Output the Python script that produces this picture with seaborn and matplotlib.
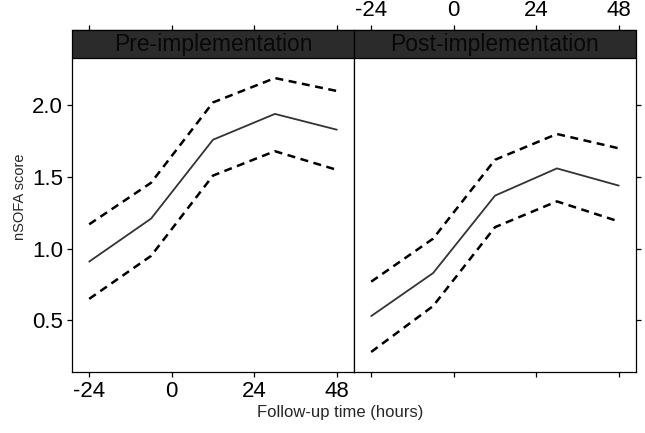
import pandas as pd
import matplotlib.pyplot as plt
import seaborn as sns
from matplotlib.patches import Rectangle

# %%

hours = [-24, -6, 12, 30, 48]
panels = ['Pre-implementation', 'Post-implementation']

pre_est = [0.91, 1.21, 1.76, 1.94, 1.83]
pre_upper = [1.17, 1.46, 2.02, 2.19, 2.10]
pre_lower = [0.65, 0.95, 1.51, 1.68, 1.55]

post_est = [0.53, 0.83, 1.37, 1.56, 1.44]
post_upper = [0.77, 1.07, 1.62, 1.80, 1.70]
post_lower = [0.28, 0.60, 1.15, 1.33, 1.19]

y_ticks = [0.5, 1.0, 1.5, 2.0]
x_ticks = [-24, 0, 24, 48]

# %%

rows = []
for panel, est, up, lo in [(panels[0], pre_est, pre_upper, pre_lower),
                           (panels[1], post_est, post_upper, post_lower)]:
    for name, vals in [('estimate', est), ('upper', up), ('lower', lo)]:
        for h, v in zip(hours, vals):
            rows.append({'panel': panel, 'line': name, 'hour': h, 'score': v})
df = pd.DataFrame(rows)

# %%

sns.set_style('white')
plt.rcParams['font.family'] = ['Liberation Sans', 'DejaVu Sans']
plt.rcParams['axes.unicode_minus'] = False

fig = plt.figure(figsize=(6.45, 4.33), dpi=100)
W, H = 645, 433
bottom = 1 - 372 / H
height = 314 / H
ax1 = fig.add_axes([72 / W, bottom, (354 - 72) / W, height])
ax2 = fig.add_axes([354 / W, bottom, (636 - 354) / W, height])

strip_h = 28 / 314
for ax, panel in zip([ax1, ax2], panels):
    sub = df[df['panel'] == panel]
    sns.lineplot(data=sub[sub['line'] == 'estimate'], x='hour', y='score',
                 color='#333333', linewidth=1.3, ax=ax)
    for name in ['upper', 'lower']:
        sns.lineplot(data=sub[sub['line'] == name], x='hour', y='score',
                     color='black', linewidth=1.8, linestyle=(0, (3.2, 2.2)), ax=ax)
    ax.set_xlim(-29, 53)
    ax.set_ylim(0.14, 2.33)
    ax.set_xticks(x_ticks)
    ax.set_yticks(y_ticks)
    ax.set_xlabel('')
    ax.set_ylabel('')
    for s in ax.spines.values():
        s.set_color('black')
        s.set_linewidth(0.9)
    ax.spines['top'].set_position(('outward', 28 * 72 / 100))
    ax.add_patch(Rectangle((0, 1), 1, strip_h, transform=ax.transAxes,
                           facecolor='#2b2b2b', edgecolor='black', linewidth=0.9,
                           clip_on=False, zorder=3))
    ax.text(0.5, 1 + strip_h / 2, panel, transform=ax.transAxes, ha='center', va='center',
            fontsize=16.5, color='#080808', zorder=4)
    ax.tick_params(direction='out', length=3.5, width=0.9, color='black',
                   labelsize=16, labelcolor='black', pad=3)

ax1.tick_params(axis='x', bottom=True, top=True, labelbottom=True, labeltop=False)
ax1.tick_params(axis='y', left=True, right=False, labelleft=True, labelright=False)
ax2.tick_params(axis='x', bottom=True, top=True, labelbottom=False, labeltop=True)
ax2.tick_params(axis='y', left=False, right=True, labelleft=False, labelright=False)
ax1.set_yticklabels(['0.5', '1.0', '1.5', '2.0'])

fig.text(20 / W, 1 - 197 / H, 'nSOFA score', rotation=90, ha='center', va='center', fontsize=10.5)
fig.text(340 / W, 1 - 413 / H, 'Follow-up time (hours)', ha='center', va='center', fontsize=12)

plt.savefig('out.png', dpi=100)
